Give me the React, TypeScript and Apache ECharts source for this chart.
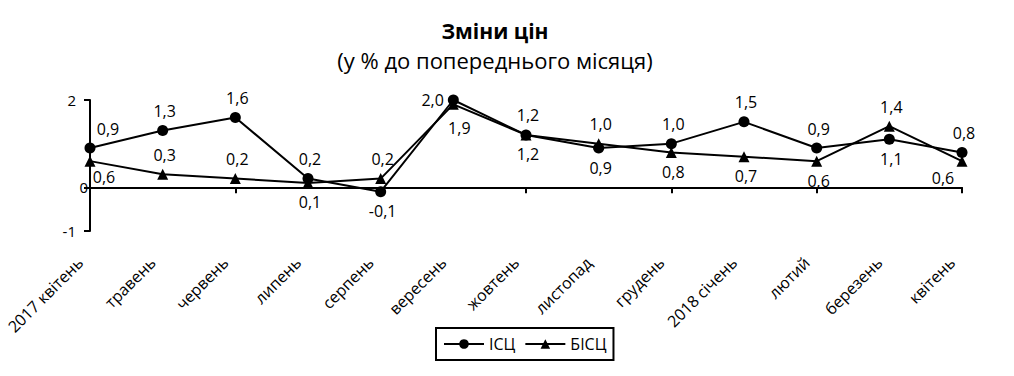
import React, { useEffect, useRef } from "react";
import * as echarts from "echarts";

const categories = [
  "2017 квітень", "травень", "червень", "липень", "серпень", "вересень",
  "жовтень", "листопад", "грудень", "2018 січень", "лютий", "березень", "квітень",
];
const icsValues = [0.9, 1.3, 1.6, 0.2, -0.1, 2.0, 1.2, 0.9, 1.0, 1.5, 0.9, 1.1, 0.8];
const bicsValues = [0.6, 0.3, 0.2, 0.1, 0.2, 1.9, 1.2, 1.0, 0.8, 0.7, 0.6, 1.4, 0.6];
const yTickValues = [-1, 0, 2];

// label placement styles (not data)
const icsLabelPlace = ["topRight", "top", "top", "top", "bottom", "left", "top", "bottom", "top", "top", "top", "bottom", "top"];
const bicsLabelPlace = ["bottomRight", "top", "top", "bottom", "top", "bottomShift", "bottom", "top", "bottom", "bottom", "bottom", "top", "bottomLeft"];

const FONT = "'Open Sans', 'Noto Sans', sans-serif";

function labelFor(place: string) {
  const base: any = { show: true, color: "#000", fontSize: 16, fontFamily: FONT, distance: 6, offset: [2, 0] };
  switch (place) {
    case "topRight": return { ...base, position: "top", offset: [18, 0] };
    case "bottomRight": return { ...base, position: "bottom", offset: [14, -4] };
    case "bottomLeft": return { ...base, position: "bottom", offset: [-19, -3] };
    case "bottomShift": return { ...base, position: "bottom", offset: [6, 4] };
    case "left": return { ...base, position: "left", distance: 4, offset: [0, 0] };
    default: return { ...base, position: place };
  }
}

const fmt = (v: number) => v.toFixed(1).replace(".", ",");

export default function App() {
  const ref = useRef<HTMLDivElement>(null);
  useEffect(() => {
    document.body.style.margin = "0";
    const chart = echarts.init(ref.current!, null, { renderer: "svg" });
    chart.setOption({
      animation: false,
      backgroundColor: "#fff",
      textStyle: { fontFamily: FONT, color: "#000" },
      title: {
        text: "Зміни цін",
        subtext: "(у % до попереднього місяця)",
        left: 490,
        textAlign: "center",
        top: 15,
        itemGap: 8,
        textStyle: { fontSize: 21, fontWeight: "bold", color: "#000", fontFamily: FONT },
        subtextStyle: { fontSize: 22, color: "#000", fontFamily: FONT },
      },
      legend: {
        left: 436,
        top: 328,
        itemWidth: 40,
        itemHeight: 12,
        itemGap: 9,
        padding: [8, 7, 8, 7],
        borderColor: "#000",
        borderWidth: 2,
        textStyle: { fontSize: 16, color: "#000", fontFamily: FONT },
        data: ["ІСЦ", "БІСЦ"],
      },
      grid: { left: 90, right: 52, top: 100, bottom: 145, containLabel: false },
      xAxis: [
        {
          type: "category",
          data: categories,
          boundaryGap: false,
          axisLine: { onZero: true, lineStyle: { color: "#000", width: 2 } },
          axisTick: { show: true, length: 6, lineStyle: { color: "#000", width: 2 } },
          axisLabel: { show: false },
          splitLine: { show: false },
        },
        {
          type: "category",
          data: categories,
          boundaryGap: false,
          position: "bottom",
          axisLine: { show: false, onZero: false },
          axisTick: { show: false },
          axisLabel: {
            show: true, rotate: 45, margin: 19, fontSize: 16, color: "#000", fontFamily: FONT,
            interval: 0, padding: [0, 14, 0, 0],
          },
          splitLine: { show: false },
        },
      ],
      yAxis: {
        type: "value",
        min: -1,
        max: 2,
        interval: 1,
        axisLine: { show: true, lineStyle: { color: "#000", width: 2 } },
        axisTick: { show: true, length: 6, customValues: yTickValues, lineStyle: { color: "#000", width: 2 } },
        splitLine: { show: false },
        axisLabel: {
          customValues: yTickValues,
          margin: 2,
          fontSize: 15,
          color: "#000",
          fontFamily: FONT,
          formatter: (v: number) => (v === 0 ? "{z|0}" : "{n|" + v + "}"),
          rich: {
            z: { fontSize: 15, color: "#000", fontFamily: FONT },
            n: { fontSize: 15, color: "#000", fontFamily: FONT, padding: [0, 12, 0, 0] },
          },
        },
      },
      series: [
        {
          name: "ІСЦ",
          type: "line",
          xAxisIndex: 0,
          data: icsValues.map((v, i) => ({ value: v, label: labelFor(icsLabelPlace[i]) })),
          symbol: "circle",
          symbolSize: 11,
          lineStyle: { color: "#000", width: 2 },
          itemStyle: { color: "#000" },
          label: { show: true, formatter: (p: any) => fmt(p.value) },
          z: 3,
        },
        {
          name: "БІСЦ",
          type: "line",
          xAxisIndex: 0,
          data: bicsValues.map((v, i) => ({ value: v, label: labelFor(bicsLabelPlace[i]) })),
          symbol: "triangle",
          symbolSize: 11,
          lineStyle: { color: "#000", width: 2 },
          itemStyle: { color: "#000" },
          label: { show: true, formatter: (p: any) => fmt(p.value) },
          z: 2,
        },
      ],
    });
    return () => chart.dispose();
  }, []);
  return <div ref={ref} style={{ width: 1014, height: 376 }} />;
}
